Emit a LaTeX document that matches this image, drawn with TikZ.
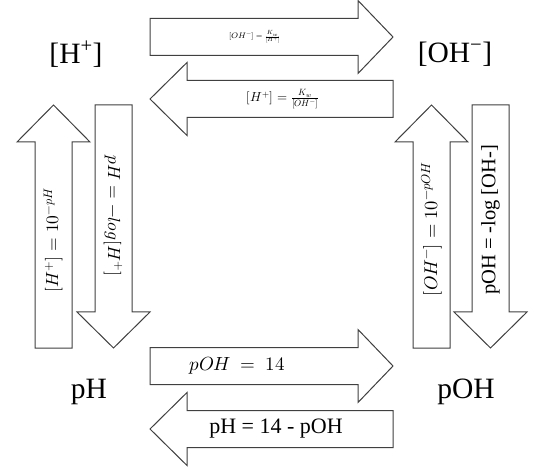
\documentclass[tikz,border=0pt]{standalone}
\usepackage{unicode-math}
\setmainfont{Liberation Serif}
\setmathfont{Latin Modern Math}
\definecolor{arrowgray}{HTML}{404040}
\newcommand{\HArrowPath}[4]{% body start x, head base x, tip x, center y
  (#1,#4-18.5) -- (#2,#4-18.5) -- (#2,#4-36.5) -- (#3,#4) -- (#2,#4+36.5) -- (#2,#4+18.5) -- (#1,#4+18.5) -- cycle}
\newcommand{\VArrowPath}[4]{% body start y, head base y, tip y, center x
  (#4-18.5,#1) -- (#4-18.5,#2) -- (#4-36.5,#2) -- (#4,#3) -- (#4+36.5,#2) -- (#4+18.5,#2) -- (#4+18.5,#1) -- cycle}
\tikzset{
  arrowbox/.style={draw=arrowgray, fill=white, line width=1pt, line join=miter},
  biglabel/.style={font=\fontsize{29.5}{32}\selectfont, inner sep=0pt},
  formula/.style={inner sep=0pt},
}
\begin{document}
\begin{tikzpicture}[x=1pt, y=-1pt]
\useasboundingbox (0,0) rectangle (547,468);
% horizontal arrows
\draw[arrowbox] \HArrowPath{150}{358}{393}{37};
\draw[arrowbox] \HArrowPath{393}{187}{150}{99};
\draw[arrowbox] \HArrowPath{150}{358}{393}{366};
\draw[arrowbox] \HArrowPath{393}{187}{150}{429};
% vertical arrows
\draw[arrowbox] \VArrowPath{348}{142}{105}{53.5};
\draw[arrowbox] \VArrowPath{105}{312}{348}{113.5};
\draw[arrowbox] \VArrowPath{348}{142}{105}{431.5};
\draw[arrowbox] \VArrowPath{105}{312}{348}{490.5};
% corner labels
\node[biglabel] (hplus) at (76,54) {[H\textsuperscript{+}]};
\node[biglabel] (ohminus) at (455,54) {[OH\textsuperscript{−}]};
\node[biglabel] (ph) at (89,392) {pH};
\node[biglabel] (poh) at (466,392) {pOH};
% formulas
\node[formula, font=\fontsize{8}{9}\selectfont] (f1) at (255,37) {$[OH^{-}]=\frac{K_w}{[H^{+}]}$};
\node[formula, font=\fontsize{13}{15}\selectfont] (f2) at (283,99) {$[H^{+}]=\frac{K_w}{[OH^{-}]}$};
\node[formula, font=\fontsize{19}{21}\selectfont] (f3) at (237,366) {$pOH\ =\ 14$};
\node[formula, font=\fontsize{22}{24}\selectfont] (f4) at (276,429) {pH = 14 - pOH};
\node[formula, font=\fontsize{17.5}{19}\selectfont, rotate=90] (f5) at (53.5,240) {$[H^{+}]=10^{-pH}$};
\node[formula, font=\fontsize{17.5}{19}\selectfont, rotate=-90] (f6) at (113.5,216) {$pH=-log[H^{+}]$};
\node[formula, font=\fontsize{18.5}{20}\selectfont, rotate=90] (f7) at (431.5,229) {$[OH^{-}]=10^{-pOH}$};
\node[formula, font=\fontsize{20.5}{22}\selectfont, rotate=90] (f8) at (490.5,220) {pOH = -log [OH-]};
\end{tikzpicture}
\end{document}
